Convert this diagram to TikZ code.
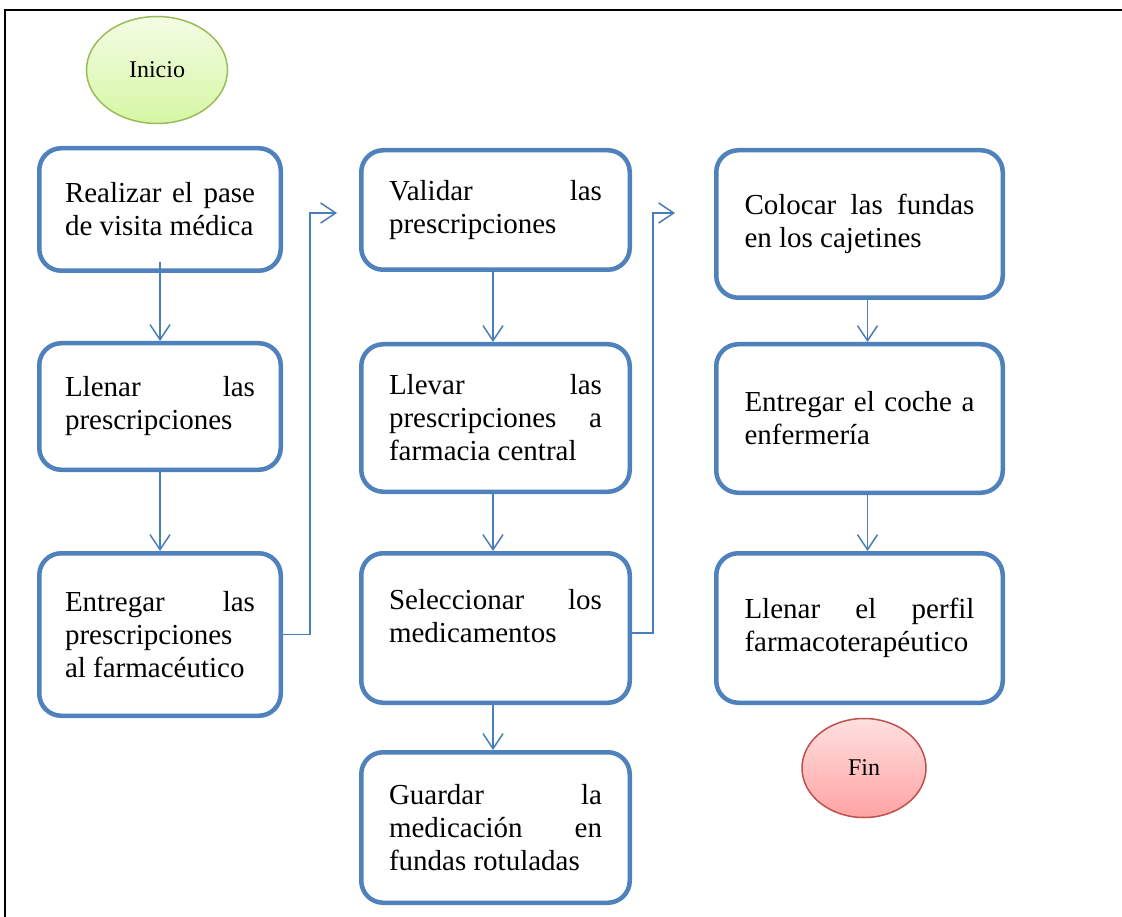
\documentclass[tikz,border=0pt]{standalone}
\usepackage{fontspec}
\setmainfont{Liberation Serif}
\usetikzlibrary{arrows.meta,shapes.geometric,calc}
\definecolor{boxblue}{HTML}{4F81BD}
\definecolor{lineblue}{HTML}{4A7EBB}
\definecolor{greenedge}{HTML}{9BBB59}
\definecolor{greentop}{HTML}{F3FCE4}
\definecolor{greenbot}{HTML}{D6F7A4}
\definecolor{rededge}{HTML}{C0504D}
\definecolor{redtop}{HTML}{FFE0E0}
\definecolor{redbot}{HTML}{FFA3A3}
\setlength{\parindent}{0pt}
\newcommand{\rsp}{\spaceskip=0pt\xspaceskip=0pt\relax}
\newcommand{\jline}[1]{\makebox[\hsize][s]{\rsp#1}}
\tikzset{
  box/.style={draw=boxblue, line width=4.5pt, rounded corners=22pt, fill=white,
    font=\fontsize{29}{33}\selectfont, inner xsep=0pt, inner ysep=0pt},
  colA/.style={minimum width=241.5pt, text width=190pt},
  colB/.style={minimum width=268.5pt, text width=213pt},
  colC/.style={minimum width=286.5pt, text width=230pt},
  conn/.style={draw=lineblue, line width=1.5pt, -{Straight Barb[length=15pt,width=20pt]}},
  term/.style={ellipse, line width=1.5pt, font=\fontsize{24}{28}\selectfont, inner sep=0pt},
}
\begin{document}
\begin{tikzpicture}[x=1pt,y=-1pt]
\useasboundingbox (0,0) rectangle (1122,917);
\fill[white] (0,0) rectangle (1122,917);
\draw[line width=2pt] (1122,10) -- (5,10) -- (5,917);

\node[term, draw=greenedge, top color=greentop, bottom color=greenbot,
      minimum width=141pt, minimum height=107pt] (inicio) at (157,70) {Inicio};
\node[term, draw=rededge, top color=redtop, bottom color=redbot,
      minimum width=124pt, minimum height=99pt] (fin) at (864,768) {Fin};

% column 1
\node[box, colA, minimum height=122.5pt] (b1) at (160,209.5)
  {\rsp\jline{Realizar el pase}\\de visita médica};
\node[box, colA, minimum height=126.5pt] (b2) at (160,406.5)
  {\rsp\jline{Llenar las}\\prescripciones};
\node[box, colA, minimum height=162.5pt] (b3) at (160,634.5)
  {\rsp\jline{Entregar las}\\prescripciones\\al farmacéutico};

% column 2
\node[box, colB, minimum height=119.5pt] (b4) at (495.5,210)
  {\rsp\jline{Validar las}\\prescripciones};
\node[box, colB, minimum height=147.5pt] (b5) at (495.5,418)
  {\rsp\jline{Llevar las}\\\jline{prescripciones a}\\farmacia central};
\node[box, colB, minimum height=149.5pt] (b6) at (495.5,628)
  {\rsp\jline{Seleccionar los}\\medicamentos\\[-9pt]\mbox{}};
\node[box, colB, minimum height=150.5pt] (b7) at (495.5,827.5)
  {\rsp\jline{Guardar la}\\\jline{medicación en}\\fundas rotuladas};

% column 3
\node[box, colC, minimum height=147.5pt] (b8) at (859.5,224)
  {\rsp\jline{Colocar las fundas}\\en los cajetines};
\node[box, colC, minimum height=148.5pt] (b9) at (859.5,418.5)
  {\rsp\jline{Entregar el coche a}\\enfermería};
\node[box, colC, minimum height=149.5pt] (b10) at (859.5,628)
  {\rsp\jline{Llenar el perfil}\\farmacoterapéutico};

% free ends of the column-change connectors
\coordinate (t1) at (337,213);
\coordinate (t2) at (675,213);

% connectors
\draw[conn] ([yshift=11pt]b1.south) -- (b2.north);
\draw[conn] (b2.south) -- (b3.north);
\draw[conn] (b3.east) -| ($(t1)+(-27,0)$) -- (t1);
\draw[conn] ([xshift=-2.5pt]b4.south) -- ([xshift=-2.5pt]b5.north);
\draw[conn] ([xshift=-2.5pt]b5.south) -- ([xshift=-2.5pt]b6.north);
\draw[conn] ([xshift=-2.5pt]b6.south) -- ([xshift=-2.5pt]b7.north);
\draw[conn] ([yshift=-5pt]b6.east) -| ($(t2)+(-22,0)$) -- (t2);
\draw[conn] ([xshift=8pt]b8.south) -- ([xshift=8pt]b9.north);
\draw[conn] ([xshift=8pt]b9.south) -- ([xshift=8pt]b10.north);
\end{tikzpicture}
\end{document}
